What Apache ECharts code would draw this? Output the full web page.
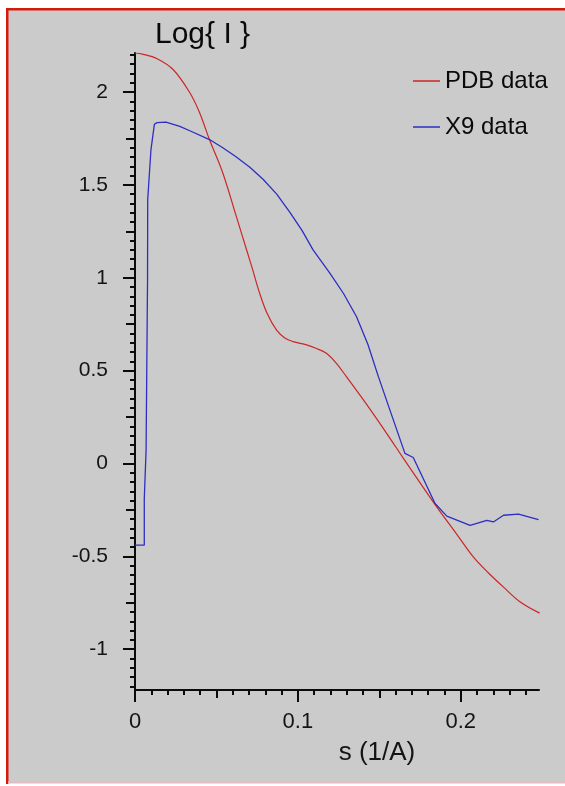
<!DOCTYPE html>
<html>
<head>
<meta charset="utf-8">
<title>Log{ I } vs s</title>
<script src="https://cdn.jsdelivr.net/npm/echarts@6/dist/echarts.min.js"></script>
<style>
  html, body { margin: 0; padding: 0; background: #ffffff; }
  #chart { width: 565px; height: 786px; }
</style>
</head>
<body>
<div id="chart"></div>
<script>
// Scattering profiles: log intensity against momentum transfer s (1/A)
const pdbS = [0, 0.005, 0.0133, 0.0235, 0.0334, 0.0396, 0.0457, 0.0539, 0.0622, 0.0683, 0.072, 0.0765, 0.081, 0.0868, 0.092, 0.097, 0.1053, 0.111, 0.1175, 0.124, 0.1298, 0.14, 0.1503, 0.16, 0.17, 0.1852, 0.197, 0.2078, 0.217, 0.2262, 0.2365, 0.2484];
const pdbLogI = [2.21, 2.203, 2.18, 2.12, 2.0, 1.89, 1.744, 1.564, 1.33, 1.156, 1.05, 0.917, 0.81, 0.719, 0.675, 0.656, 0.638, 0.62, 0.593, 0.535, 0.467, 0.345, 0.216, 0.09, -0.04, -0.234, -0.375, -0.505, -0.59, -0.666, -0.746, -0.806];

const x9S = [0, 0.0057, 0.0057, 0.0063, 0.0068, 0.0077, 0.0078, 0.0098, 0.0119, 0.0135, 0.019, 0.0275, 0.034, 0.0457, 0.0539, 0.0622, 0.0705, 0.0786, 0.087, 0.0952, 0.1025, 0.1093, 0.1196, 0.128, 0.136, 0.143, 0.1493, 0.1565, 0.1657, 0.1708, 0.1842, 0.1914, 0.2057, 0.216, 0.22, 0.2262, 0.2354, 0.2477];
const x9LogI = [-0.44, -0.44, -0.19, -0.19, 0.07, 0.99, 1.42, 1.69, 1.826, 1.835, 1.838, 1.815, 1.79, 1.744, 1.70, 1.65, 1.595, 1.53, 1.45, 1.35, 1.255, 1.15, 1.025, 0.915, 0.79, 0.64, 0.47, 0.287, 0.054, 0.032, -0.216, -0.284, -0.333, -0.306, -0.315, -0.279, -0.273, -0.302];

const xTickLabels = [0, 0.1, 0.2];
const yTickLabels = [-1, -0.5, 0, 0.5, 1, 1.5, 2];
const xMidTicks = [0.05, 0.15];
const yMidTicks = [-0.75, -0.25, 0.25, 0.75, 1.25, 1.75];

const seriesNames = ['PDB data', 'X9 data'];

const X_MIN = 0, X_MAX = 0.248;
const Y_MIN = -1.22, Y_MAX = 2.21;

// minor ticks: every 0.01 on s, every 0.05 on Log{ I }
function minorTicks(from, to, step, skip) {
  const out = [];
  const n = Math.round((to - from) / step);
  for (let i = 0; i <= n; i++) {
    const v = Math.round((from + i * step) * 1000) / 1000;
    if (!skip.some(s => Math.abs(s - v) < 1e-9)) out.push(v);
  }
  return out;
}
const xMinorTicks = minorTicks(0, 0.24, 0.01, xTickLabels.concat(xMidTicks));
const yMinorTicks = minorTicks(-1.2, 2.2, 0.05, yTickLabels.concat(yMidTicks));

const pair = (xs, ys) => xs.map((x, i) => [x, ys[i]]);

const FONT = '"Liberation Sans", Arial, sans-serif';
const INK = '#0a0a0a';

function tickAxis(dim, values, len) {
  return {
    type: 'value',
    min: dim === 'x' ? X_MIN : Y_MIN,
    max: dim === 'x' ? X_MAX : Y_MAX,
    position: dim === 'x' ? 'bottom' : 'left',
    axisLine: { show: false, onZero: false },
    axisTick: { show: true, customValues: values, length: len, lineStyle: { color: INK, width: 2 } },
    axisLabel: { show: false },
    splitLine: { show: false }
  };
}

const chart = echarts.init(document.getElementById('chart'), null, { renderer: 'canvas' });

chart.setOption({
  animation: false,
  backgroundColor: 'transparent',
  graphic: [
    { type: 'rect', z: -100, shape: { x: 7, y: 9, width: 558, height: 774 }, style: { fill: '#cbcbcb' } },
    { type: 'rect', z: -90, shape: { x: 6, y: 8, width: 559, height: 2.5 }, style: { fill: '#d41a0c' } },
    { type: 'rect', z: -90, shape: { x: 6, y: 8, width: 2.5, height: 776 }, style: { fill: '#d41a0c' } },
    { type: 'rect', z: -90, shape: { x: 8, y: 781.5, width: 557, height: 2 }, style: { fill: '#e6bcc4' } }
  ],
  title: {
    text: 'Log{ I }',
    left: 155,
    top: 20,
    padding: 0,
    textStyle: { fontFamily: FONT, fontSize: 30, fontWeight: 'normal', color: INK }
  },
  legend: {
    orient: 'vertical',
    left: 413,
    top: 69,
    padding: 0,
    icon: 'rect',
    itemWidth: 27,
    itemHeight: 1.5,
    itemGap: 22,
    data: seriesNames,
    textStyle: { fontFamily: FONT, fontSize: 24, color: INK }
  },
  grid: { left: 135, right: 26, top: 53, bottom: 96, containLabel: false },
  xAxis: [
    {
      type: 'value',
      min: X_MIN,
      max: X_MAX,
      position: 'bottom',
      axisLine: { show: true, onZero: false, lineStyle: { color: INK, width: 2 } },
      axisTick: { show: true, customValues: xTickLabels, length: 12, lineStyle: { color: INK, width: 2 } },
      axisLabel: {
        customValues: xTickLabels,
        margin: 21,
        fontFamily: FONT,
        fontSize: 22,
        color: '#141414',
        formatter: v => String(v)
      },
      splitLine: { show: false },
      name: 's (1/A)',
      nameLocation: 'middle',
      nameGap: 50,
      nameTextStyle: { fontFamily: FONT, fontSize: 26, color: '#141414', padding: [0, 0, 0, 80] }
    },
    tickAxis('x', xMidTicks, 8),
    tickAxis('x', xMinorTicks, 5)
  ],
  yAxis: [
    {
      type: 'value',
      min: Y_MIN,
      max: Y_MAX,
      position: 'left',
      axisLine: { show: true, onZero: false, lineStyle: { color: INK, width: 2 } },
      axisTick: { show: true, customValues: yTickLabels, length: 12, lineStyle: { color: INK, width: 2 } },
      axisLabel: {
        customValues: yTickLabels,
        margin: 27,
        fontFamily: FONT,
        fontSize: 21,
        color: '#141414',
        formatter: v => String(v)
      },
      splitLine: { show: false }
    },
    tickAxis('y', yMidTicks, 9),
    tickAxis('y', yMinorTicks, 5)
  ],
  series: [
    {
      name: seriesNames[0],
      type: 'line',
      data: pair(pdbS, pdbLogI),
      smooth: 0.35,
      showSymbol: false,
      symbol: 'none',
      lineStyle: { color: '#cc2626', width: 1.2 },
      itemStyle: { color: '#cc2626' }
    },
    {
      name: seriesNames[1],
      type: 'line',
      data: pair(x9S, x9LogI),
      showSymbol: false,
      symbol: 'none',
      lineStyle: { color: '#2d2dc4', width: 1.3 },
      itemStyle: { color: '#2d2dc4' }
    }
  ]
});
</script>
</body>
</html>
